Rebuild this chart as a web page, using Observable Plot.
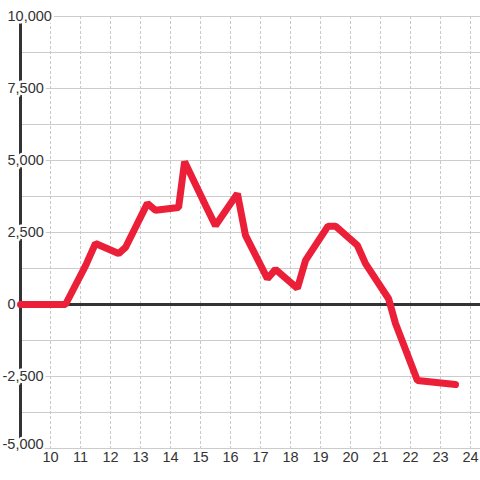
<!DOCTYPE html>
<html>
<head>
<meta charset="utf-8">
<script src="https://cdn.jsdelivr.net/npm/d3@7"></script>
<script src="https://cdn.jsdelivr.net/npm/@observablehq/plot@0.6"></script>
<style>
  html, body { margin: 0; padding: 0; background: #ffffff; }
  #chart { width: 480px; height: 480px; }
</style>
</head>
<body>
<div id="chart"></div>
<script>
// Data
const times = [9, 10.5, 11.17, 11.5, 12.27, 12.5, 13.23, 13.5, 14.27, 14.47, 15.17, 15.5, 16.23, 16.5, 17.23, 17.5, 18.23, 18.5, 19.25, 19.5, 20.23, 20.5, 21.27, 21.5, 22.23, 23.5];
const values = [0, 0, 1350, 2120, 1770, 1980, 3510, 3270, 3370, 4960, 3440, 2740, 3850, 2400, 900, 1220, 560, 1530, 2720, 2720, 2050, 1420, 200, -660, -2640, -2780];
const xTicks = [10, 11, 12, 13, 14, 15, 16, 17, 18, 19, 20, 21, 22, 23, 24];
const yLabelTicks = [-5000, -2500, 0, 2500, 5000, 7500, 10000];
const yGridTicks = [-5000, -3750, -2500, -1250, 0, 1250, 2500, 3750, 5000, 6250, 7500, 8750, 10000];

const data = times.map((t, i) => ({t, v: values[i]}));
const fmt = d3.format(",");
const yMin = d3.min(yLabelTicks);
const pos = yLabelTicks.filter(d => d >= 0);
const neg = yLabelTicks.filter(d => d < 0 && d > yMin);
const bottomLabel = [yMin];

const labelStyle = {frameAnchor: "left", textAnchor: "start", fontSize: 14.5, fill: "#333333", stroke: "#ffffff", strokeWidth: 5};

const chart = Plot.plot({
  width: 480,
  height: 480,
  marginLeft: 20,
  marginRight: 0,
  marginTop: 16,
  marginBottom: 32,
  style: {fontFamily: "'Liberation Sans', Arial, sans-serif", background: "#ffffff"},
  x: {domain: [9, 24.333], axis: null},
  y: {domain: [-5000, 10000], axis: null},
  marks: [
    Plot.ruleY(yGridTicks, {stroke: "#cccccc", strokeWidth: 1}),
    Plot.ruleX(xTicks, {stroke: "#c8c8c8", strokeWidth: 1, strokeDasharray: "3,2"}),
    Plot.ruleX([9], {stroke: "#333333", strokeWidth: 3}),
    Plot.ruleY([0], {stroke: "#333333", strokeWidth: 3}),
    Plot.text(pos, {y: d => d, text: d => fmt(d), dx: -13, ...labelStyle}),
    Plot.text(neg, {y: d => d, text: d => "-" + fmt(-d), dx: -18, ...labelStyle}),
    Plot.text(bottomLabel, {y: d => d, text: d => "-" + fmt(-d), dx: -18, lineAnchor: "bottom", ...labelStyle}),
    Plot.text(xTicks, {x: d => d, text: d => String(d), frameAnchor: "bottom", dy: 13, fontSize: 14.5, fill: "#333333"}),
    Plot.line(data, {x: "t", y: "v", stroke: "#ec1f38", strokeWidth: 7, strokeLinejoin: "miter", strokeLinecap: "round"})
  ]
});
document.getElementById("chart").appendChild(chart);
</script>
</body>
</html>
